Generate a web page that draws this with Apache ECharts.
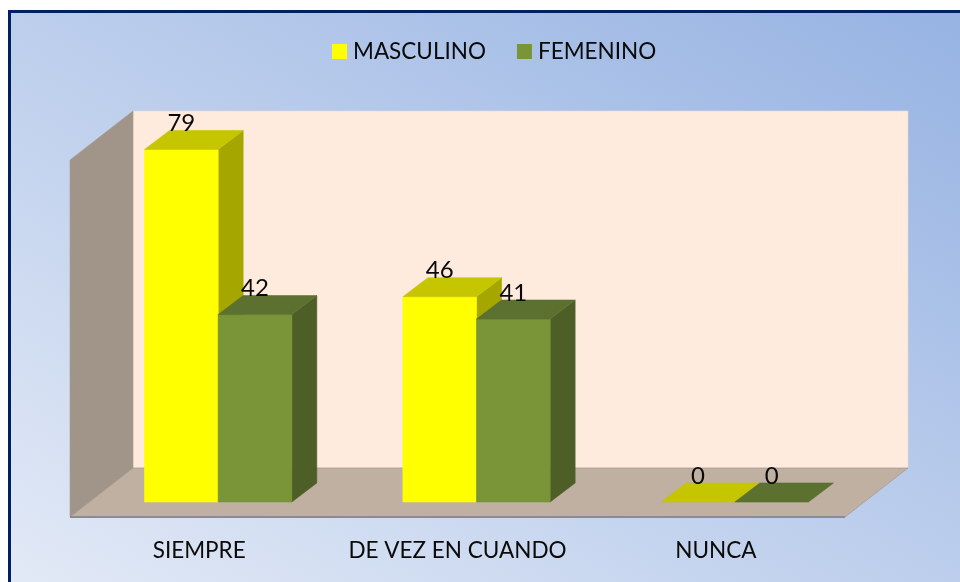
<!DOCTYPE html>
<html><head><meta charset="utf-8">
<style>html,body{margin:0;padding:0;background:#fff}#c{width:960px;height:582px}</style>
<script src="https://cdn.jsdelivr.net/npm/echarts@6/dist/echarts.min.js"></script>
</head><body><div id="c"></div>
<script>
const categories = ['SIEMPRE', 'DE VEZ EN CUANDO', 'NUNCA'];
const masculino = [79, 46, 0];
const femenino = [42, 41, 0];
const FONT = 'Lato';
const DEPTH = [25, -19], FLOOR = [63, -49], PLACE = [19, -15];

function poly(points, fill, stroke) {
  return { type: 'polygon', shape: { points }, style: { fill, stroke: stroke || fill, lineWidth: 0.6 } };
}
function bar(side, front, top, dark) {
  return function (params, api) {
    const v = api.value(1);
    const p0 = api.coord([api.value(0), 0]), p1 = api.coord([api.value(0), v]);
    const w = api.size([1, 0])[0] * 0.285;
    const xl = p0[0] + PLACE[0] + (side - 1) * w;
    const xr = xl + w, yb = p0[1] + PLACE[1], yt = p1[1] + PLACE[1];
    const d = DEPTH;
    const ch = [];
    if (v > 0) ch.push(poly([[xr, yb], [xr + d[0], yb + d[1]], [xr + d[0], yt + d[1]], [xr, yt]], dark));
    if (v > 0) ch.push(poly([[xl, yb], [xr, yb], [xr, yt], [xl, yt]], front));
    ch.push(poly([[xl, yt], [xr, yt], [xr + d[0], yt + d[1]], [xl + d[0], yt + d[1]]], top));
    ch.push({ type: 'text', z2: 50, style: { text: String(v), x: (xl + xr) / 2, y: yt - 26, align: 'center', verticalAlign: 'middle',
      font: '24px ' + FONT, fill: '#0a0a0a' } });
    return { type: 'group', children: ch };
  };
}
function walls(params, api) {
  const c = params.coordSys;
  const l = c.x, r = c.x + c.width, t = c.y, b = c.y + c.height;
  const f = FLOOR;
  return { type: 'group', children: [
    poly([[l + f[0], t + f[1]], [r + f[0], t + f[1]], [r + f[0], b + f[1]], [l + f[0], b + f[1]]], '#ffebde', '#e9d9d0'),
    poly([[l, t], [l + f[0], t + f[1]], [l + f[0], b + f[1]], [l, b]], '#a19488', '#a89c92'),
    poly([[l, b], [l + f[0], b + f[1]], [r + f[0], b + f[1]], [r, b]], '#bfb0a2', '#9a928b'),
    { type: 'line', shape: { x1: l, y1: b, x2: r, y2: b }, style: { stroke: '#8c8c8c', lineWidth: 2 } }
  ] };
}
const chart = echarts.init(document.getElementById('c'), null, { renderer: 'canvas' });
chart.setOption({
  animation: false,
  backgroundColor: '#ffffff',
  graphic: [{ type: 'rect', z: -10, silent: true, shape: { x: 9.5, y: 11.5, width: 970, height: 590 },
    style: { stroke: '#002060', lineWidth: 3,
      fill: { type: 'linear', global: true, x: 223, y: 728, x2: 747, y2: -134,
        colorStops: [{ offset: 0, color: '#e3eaf6' }, { offset: 1, color: '#95b2e2' }] } } }],
  grid: { left: 70, width: 775, top: 160, height: 357 },
  legend: { left: 327, top: 35, itemWidth: 15, itemHeight: 15, itemGap: 31, icon: 'rect',
    data: ['MASCULINO', 'FEMENINO'], textStyle: { fontFamily: FONT, fontSize: 22.5, color: '#0a0a0a', padding: [0, 0, 0, 1] } },
  xAxis: { type: 'category', data: categories, axisLine: { show: false }, axisTick: { show: false },
    axisLabel: { fontFamily: FONT, fontSize: 22.5, color: '#0a0a0a', margin: 22, interval: 0 } },
  yAxis: { type: 'value', min: 0, max: 80, show: false },
  series: [
    { type: 'custom', name: 'walls', z: 1, silent: true, data: [[0, 0]], renderItem: walls, encode: { x: 0, y: 1 } },
    { type: 'custom', name: 'MASCULINO', z: 2, itemStyle: { color: '#ffff00' }, renderItem: bar(0, '#ffff00', '#c6c600', '#a6a600'),
      data: masculino.map((v, i) => [i, v]), encode: { x: 0, y: 1 } },
    { type: 'custom', name: 'FEMENINO', z: 3, itemStyle: { color: '#7a9438' }, renderItem: bar(1, '#7a9438', '#5c7130', '#4d5e27'),
      data: femenino.map((v, i) => [i, v]), encode: { x: 0, y: 1 } }
  ]
});
</script></body></html>
